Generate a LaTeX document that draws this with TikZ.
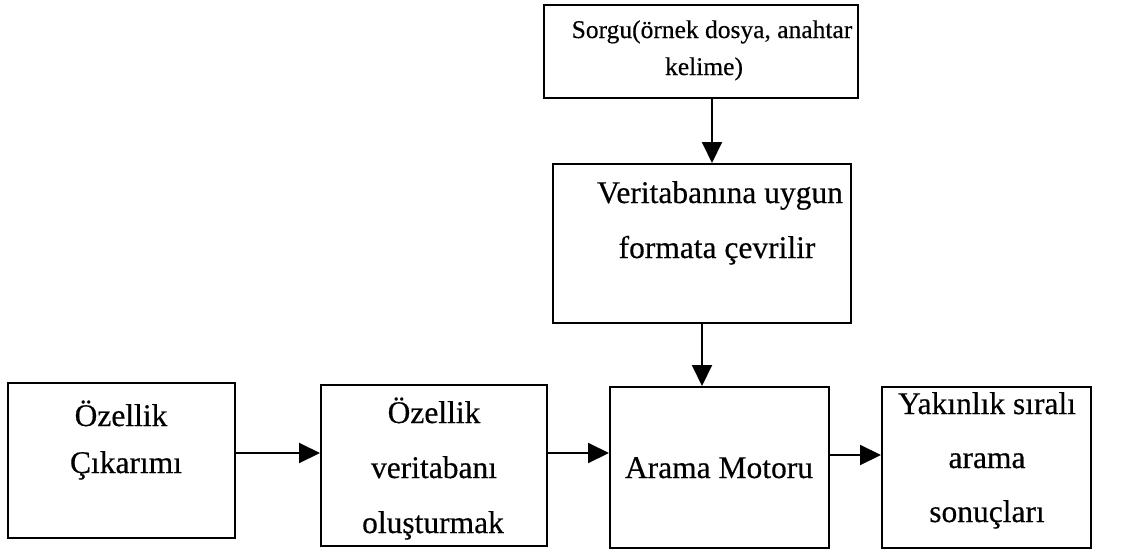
\documentclass[tikz,border=0pt]{standalone}
\usepackage{fontspec}
\setmainfont{Liberation Serif}[FakeBold=0.4]
\usetikzlibrary{arrows.meta}
\tikzset{
  blk/.style={draw=black, line width=2pt, rectangle, inner sep=0pt, fill=white},
  big/.style={anchor=base, inner sep=0pt, font=\fontsize{31.5}{38}\selectfont},
  small/.style={anchor=base, inner sep=0pt, font=\fontsize{25.5}{30}\selectfont},
  arr/.style={draw=black, line width=2pt, -{Triangle[length=21pt,width=20pt]}},
}
\begin{document}
\begin{tikzpicture}[x=1pt,y=-1pt]
\useasboundingbox (0,0) rectangle (1143,549);
% boxes (centre, size)
\node[blk, minimum width=314pt, minimum height=93pt] (sorgu) at (701,51.5) {};
\node[blk, minimum width=298pt, minimum height=159pt] (verit) at (702,243.5) {};
\node[blk, minimum width=227pt, minimum height=155pt] (ozc) at (121.5,460.5) {};
\node[blk, minimum width=226pt, minimum height=161pt] (ozv) at (434,465.5) {};
\node[blk, minimum width=219pt, minimum height=161pt] (arama) at (719.5,467.5) {};
\node[blk, minimum width=209pt, minimum height=161pt] (yak) at (986.5,467.5) {};
% texts
\node[small] (t1a) at (712,38) {Sorgu(örnek dosya, anahtar};
\node[small] (t1b) at (704,75) {kelime)};
\node[big] (t2a) at (720,203) {Veritabanına uygun};
\node[big] (t2b) at (717,258) {formata çevrilir};
\node[big] (t3a) at (121,426) {Özellik};
\node[big] (t3b) at (126,473) {Çıkarımı};
\node[big] (t4a) at (434,423) {Özellik};
\node[big] (t4b) at (434,478) {veritabanı};
\node[big] (t4c) at (433,533) {oluşturmak};
\node[big] (t5) at (719,478) {Arama Motoru};
\node[big] (t6a) at (987,414) {Yakınlık sıralı};
\node[big] (t6b) at (987,468) {arama};
\node[big] (t6c) at (987,522) {sonuçları};
% connectors
\draw[arr] ([xshift=11pt]sorgu.south) -- ([xshift=10pt]verit.north);
\draw[arr] (verit.south) -- ([xshift=-17.5pt]arama.north);
\draw[arr] ([yshift=7.5pt]ozc.east) -- ([yshift=12.5pt]ozv.west);
\draw[arr] ([yshift=12.5pt]ozv.east) -- ([yshift=14.5pt]arama.west);
\draw[arr] ([yshift=12.5pt]arama.east) -- ([yshift=12.5pt]yak.west);
\end{tikzpicture}
\end{document}
